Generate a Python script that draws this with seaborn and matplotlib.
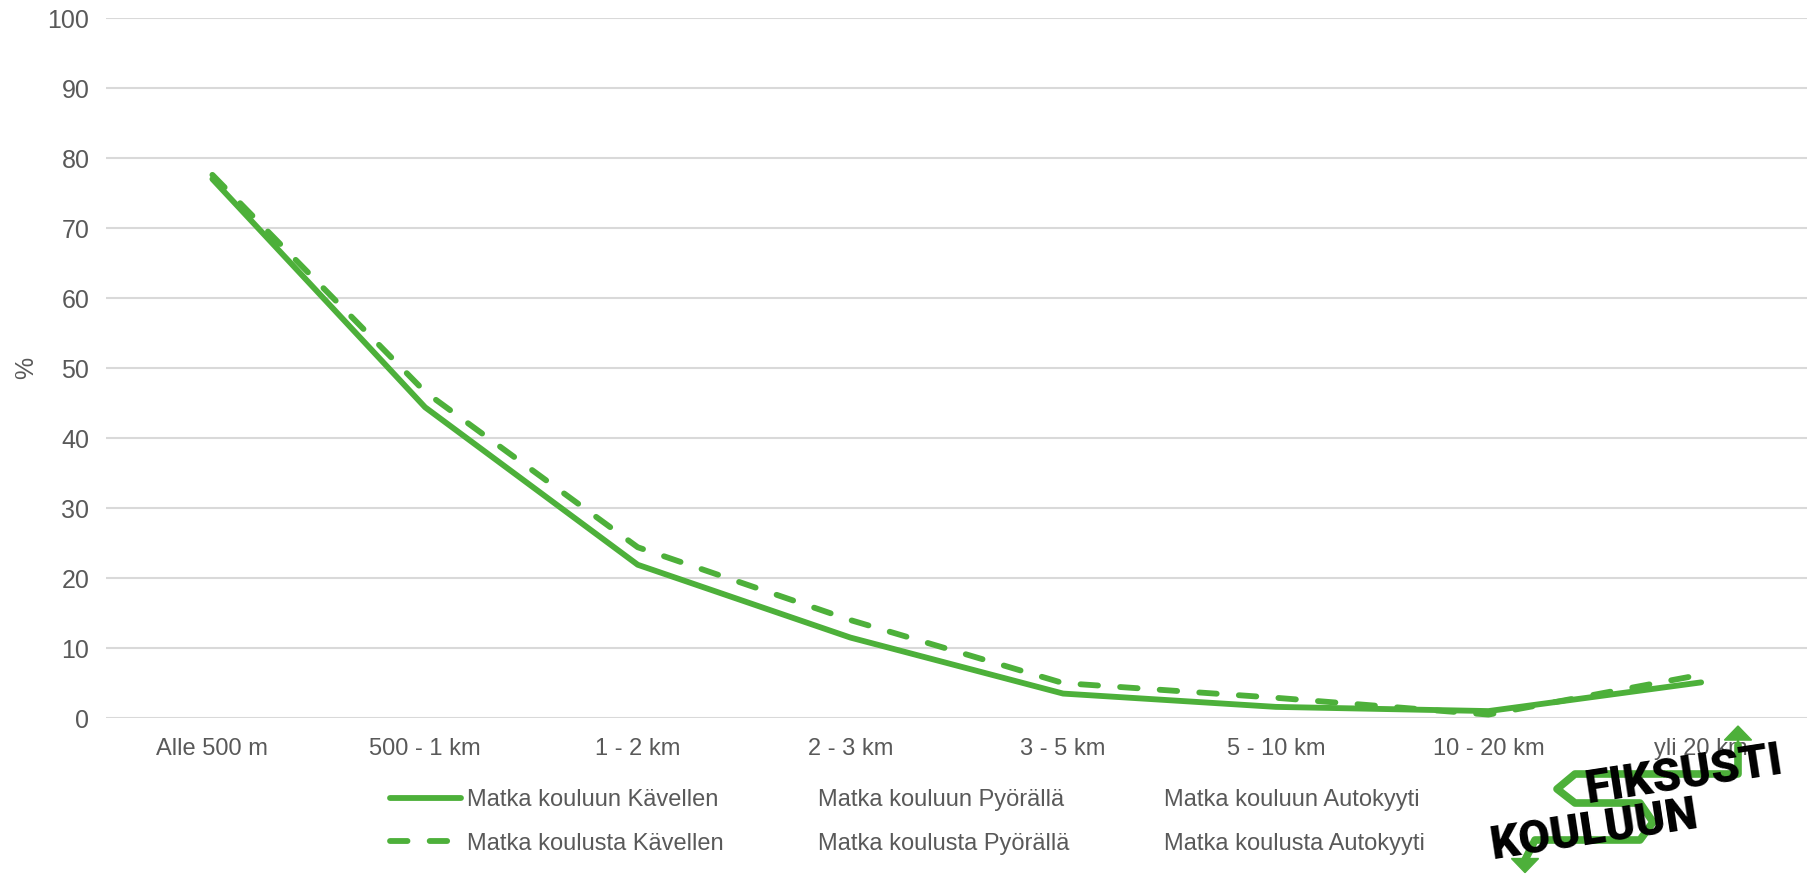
import seaborn as sns
import pandas as pd
import matplotlib.pyplot as plt
from matplotlib.lines import Line2D
from matplotlib.patches import FancyArrow

# data
categories = ['Alle 500 m', '500 - 1 km', '1 - 2 km', '2 - 3 km',
              '3 - 5 km', '5 - 10 km', '10 - 20 km', 'yli 20 km']
kouluun_kavellen = [77.0, 44.4, 21.9, 11.5, 3.5, 1.6, 1.0, 5.1]
koulusta_kavellen = [77.6, 46.6, 24.4, 14.0, 5.0, 2.9, 0.5, 6.2]
legend_labels = ['Matka kouluun Kävellen', 'Matka koulusta Kävellen',
                 'Matka kouluun Pyörällä', 'Matka koulusta Pyörällä',
                 'Matka kouluun Autokyyti', 'Matka koulusta Autokyyti']

green = '#4DB03A'
grey = '#595959'
lw = 4.2
dash = (3.0, 3.8)

df = pd.DataFrame({
    'matka': categories * 2,
    'pct': kouluun_kavellen + koulusta_kavellen,
    'sarja': [legend_labels[0]] * len(categories) + [legend_labels[1]] * len(categories),
})

sns.set_style('white')
plt.rcParams['font.family'] = ['Liberation Sans', 'DejaVu Sans']

fig = plt.figure(figsize=(18.1, 8.8), dpi=100)
ax = fig.add_axes([0.0586, 0.184, 0.94, 0.7955])

sns.lineplot(data=df, x='matka', y='pct', style='sarja', color=green,
             dashes={legend_labels[0]: '', legend_labels[1]: dash},
             linewidth=lw, legend=False, ax=ax, sort=False)
for ln in ax.lines:
    ln.set_solid_capstyle('round')
    ln.set_dash_capstyle('round')
    ln.set_solid_joinstyle('round')

ax.set_xlim(-0.5, 7.5)
ax.set_ylim(0, 100)
ax.set_yticks(range(0, 101, 10))
ax.yaxis.grid(True, color='#d9d9d9', linewidth=1.5)
ax.set_axisbelow(True)
for s in ax.spines.values():
    s.set_visible(False)
ax.tick_params(axis='both', length=0, labelsize=17, colors=grey)
ax.tick_params(axis='y', labelsize=18, pad=12)
ax.tick_params(axis='x', pad=14)
ax.set_xlabel('')
ax.set_ylabel('%', fontsize=18, color=grey)
ax.yaxis.set_label_coords(-0.04, 0.5)

# legend: 2 rows x 3 columns, only walking series visible
handles = [
    Line2D([], [], color=green, lw=lw, solid_capstyle='round'),
    Line2D([], [], color=green, lw=lw, dashes=dash, dash_capstyle='round'),
    Line2D([], [], color='none'), Line2D([], [], color='none'),
    Line2D([], [], color='none'), Line2D([], [], color='none'),
]
leg = fig.legend(handles, legend_labels, ncol=3, loc='center left',
                 bbox_to_anchor=(0.204, 0.066), frameon=False, fontsize=17,
                 handlelength=3.0, handletextpad=0.25, columnspacing=0.75,
                 labelspacing=0.9, labelcolor=grey)

# logo "FIKSUSTI KOULUUN" (approximation)
W, H = 1810, 880
def fx(x):
    return x / W
def fy(y):
    return 1 - y / H
path_x = [1738, 1738, 1575, 1557, 1575, 1640, 1653, 1640, 1535, 1525]
path_y = [745, 774, 774, 789, 803, 803, 822, 840, 840, 860]
fig.add_artist(Line2D([fx(v) for v in path_x], [fy(v) for v in path_y],
                      color=green, lw=5.5, solid_joinstyle='round',
                      solid_capstyle='round', transform=fig.transFigure))
fig.add_artist(FancyArrow(fx(1738), fy(748), 0, 0.025, width=0.0001,
                          head_width=0.015, head_length=0.016, color=green,
                          transform=fig.transFigure, length_includes_head=True))
fig.add_artist(FancyArrow(fx(1525), fy(855), 0, -0.02, width=0.0001,
                          head_width=0.015, head_length=0.016, color=green,
                          transform=fig.transFigure, length_includes_head=True))
fig.text(fx(1684), fy(775), 'FIKSUSTI', fontsize=33, fontweight='heavy',
         family=['Roboto', 'DejaVu Sans'], color='black', rotation=8.7,
         ha='center', va='center')
fig.text(fx(1594), fy(830), 'KOULUUN', fontsize=33, fontweight='heavy',
         family=['Roboto', 'DejaVu Sans'], color='black', rotation=8.7,
         ha='center', va='center')

fig.savefig('out.png', dpi=100)
